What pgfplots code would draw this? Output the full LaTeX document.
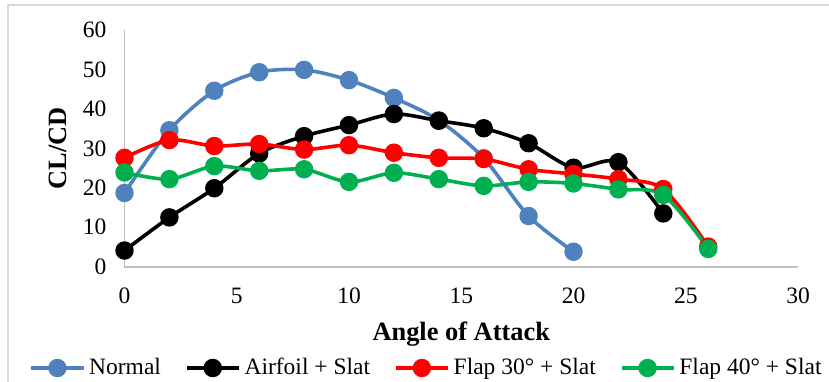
\documentclass[border=0pt]{standalone}
\usepackage{pgfplots}
\pgfplotsset{compat=1.18}
\usepackage{fontspec}
\setmainfont{Liberation Serif}
\definecolor{cblue}{HTML}{4F81BD}
\definecolor{cgreen}{HTML}{00B050}
\definecolor{cgray}{HTML}{BFBFBF}
\definecolor{fgray}{HTML}{D9D9D9}
\begin{document}
\begin{tikzpicture}
\useasboundingbox (-62.25pt,-57.15pt) rectangle (352.25pt,133.35pt);
\draw[fgray,line width=0.8pt] (-58.25pt,-80pt) rectangle (380pt,130.85pt);
\begin{axis}[
  at={(0,0)}, anchor=origin,
  scale only axis,
  width=336.75pt, height=118.35pt,
  xmin=0, xmax=30, ymin=0, ymax=60,
  xtick={0,5,...,30}, ytick={0,10,...,60},
  axis x line*=bottom, axis y line*=left,
  axis line style={cgray,line width=0.8pt,-},
  major tick length=0pt,
  /pgf/number format/assume math mode=true,
  tick label style={font=\fontsize{11.75}{14}\selectfont},
  xticklabel style={yshift=-7pt},
  yticklabel style={xshift=-5.5pt},
  xlabel={\textbf{Angle of Attack}},
  ylabel={\textbf{CL/CD}},
  label style={font=\fontsize{13.2}{15}\selectfont},
  xlabel style={at={(axis description cs:0.5,-0.283)},anchor=center},
  ylabel style={at={(axis description cs:-0.099,0.5)},anchor=center},
  every axis plot/.append style={line width=1.8pt, mark=*, mark size=3.7pt, smooth, tension=0.5},
  legend columns=4,
  legend style={at={(axis description cs:0.45,-0.428)}, anchor=center,
    draw=none, fill=none, font=\fontsize{11.75}{14}\selectfont,
    /tikz/every even column/.append style={column sep=10pt},
    inner sep=0pt},
  legend image code/.code={\draw[mark repeat=2,mark phase=2,#1] plot coordinates {(0pt,0pt)(13pt,0pt)(26pt,0pt)};},
]
\addplot[cblue, mark options={fill=cblue}] coordinates {
(0,18.7) (2,34.6) (4,44.6) (6,49.3) (8,49.9) (10,47.3) (12,42.8) (14,37.1) (16,27.5) (18,12.85) (20,3.8)};
\addlegendentry{Normal}
\addplot[black, mark options={fill=black}] coordinates {
(0,4.1) (2,12.5) (4,19.9) (6,28.7) (8,33.1) (10,35.9) (12,38.7) (14,37.0) (16,35.1) (18,31.3) (20,25.1) (22,26.5) (24,13.5)};
\addlegendentry{Airfoil + Slat}
\addplot[red, mark options={fill=red}] coordinates {
(0,27.6) (2,32.1) (4,30.6) (6,31.1) (8,29.7) (10,30.8) (12,28.9) (14,27.6) (16,27.3) (18,24.7) (20,23.5) (22,22.2) (24,19.7) (26,5.1)};
\addlegendentry{Flap 30° + Slat}
\addplot[cgreen, mark options={fill=cgreen}] coordinates {
(0,23.9) (2,22.2) (4,25.5) (6,24.3) (8,24.7) (10,21.5) (12,23.8) (14,22.2) (16,20.5) (18,21.5) (20,21.1) (22,19.6) (24,18.2) (26,4.5)};
\addlegendentry{Flap 40° + Slat}
\end{axis}
\end{tikzpicture}
\end{document}
